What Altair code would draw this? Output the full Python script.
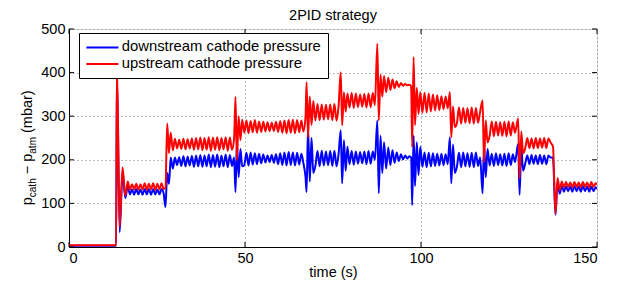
import altair as alt
import pandas as pd

# ---- data (time in s, pressure in mbar) ----
time_s = [
    0, 13.4, 13.6, 14.4, 15.2, 16.0, 16.7,
    17.3, 17.9, 18.5, 19.1, 19.7, 20.3, 20.9, 21.5, 22.1, 22.7, 23.3, 23.9, 24.5, 25.1, 25.7, 26.3, 26.9,
    27.4, 27.9, 28.4, 28.9, 29.5, 30.1,
    30.7, 31.3, 31.9, 32.5, 33.1, 33.7, 34.3, 34.9, 35.5, 36.1, 36.7, 37.3, 37.9, 38.5, 39.1, 39.7,
    40.3, 40.9, 41.5, 42.1, 42.7, 43.3, 43.9, 44.5, 45.1, 45.7, 46.3, 46.9,
    47.3, 47.7, 48.2, 48.7, 49.2,
    49.8, 50.4, 51.0, 51.6, 52.2, 52.8, 53.4, 54.0, 54.6, 55.2, 55.8, 56.4, 57.0, 57.6, 58.2, 58.8,
    59.4, 60.0, 60.6, 61.2, 61.8, 62.4, 63.0, 63.6, 64.2, 64.8, 65.4, 66.0, 66.6,
    67.2, 67.5, 67.9, 68.4, 68.9, 69.4,
    70.0, 70.6, 71.2, 71.8, 72.4, 73.0, 73.6, 74.2, 74.8, 75.4, 76.0, 76.6,
    77.2, 77.6, 78.1, 78.6, 79.1,
    79.7, 80.3, 80.9, 81.5, 82.1, 82.7, 83.3, 83.9, 84.5, 85.1, 85.7, 86.3, 86.9,
    87.6, 88.0, 88.5, 89.0, 89.5, 90.1, 90.7, 91.3, 91.9, 92.5, 93.1, 93.7, 94.3, 94.9, 95.5, 96.1, 96.7, 97.2,
    97.5, 97.9, 98.3, 98.8, 99.3, 99.8,
    100.4, 101.0, 101.6, 102.2, 102.8, 103.4, 104.0, 104.6, 105.2, 105.8, 106.4, 107.0, 107.6,
    108.2, 108.6, 109.1, 109.6,
    110.2, 110.8, 111.4, 112.0, 112.6, 113.2, 113.8, 114.4, 115.0, 115.6, 116.2, 116.8,
    117.5, 117.9, 118.4, 118.9,
    119.5, 120.1, 120.7, 121.3, 121.9, 122.5, 123.1, 123.7, 124.3, 124.9, 125.5, 126.1, 126.7,
    127.6, 128.0, 128.5, 129.0,
    129.6, 130.2, 130.8, 131.4, 132.0, 132.6, 133.2, 133.8, 134.4, 135.0, 135.6, 136.2, 136.8,
    137.5, 138.2, 138.8, 139.4,
    140.0, 140.6, 141.2, 141.8, 142.4, 143.0, 143.6, 144.2, 144.8, 145.4, 146.0, 146.6, 147.2, 147.8,
    148.4, 149.0, 149.6, 150.0,
]

downstream = [
    3, 3, 395, 34, 170, 112, 140,
    121, 132, 120, 133, 121, 132, 120, 133, 121, 133, 120, 133, 121, 132, 121, 133, 122,
    92, 170, 145, 205, 180, 205,
    188, 206, 186, 208, 185, 207, 187, 209, 184, 210, 185, 211, 184, 210, 185, 212,
    183, 211, 184, 212, 183, 210, 185, 212, 183, 211, 186, 205,
    126, 241, 160, 225, 185,
    188, 216, 187, 217, 189, 215, 190, 214, 192, 212, 194, 210, 195, 211, 193, 213,
    190, 215, 188, 217, 187, 218, 188, 217, 187, 216, 189, 214, 192,
    160, 126, 275, 150, 250, 170,
    186, 220, 185, 221, 187, 219, 188, 220, 186, 221, 185, 215,
    268, 146, 245, 175, 230,
    190, 220, 189, 219, 191, 218, 192, 219, 190, 220, 191, 219, 200,
    290, 123, 255, 170, 240, 180, 228, 188, 222, 193, 217, 197, 213, 201, 210, 203, 208, 205,
    96, 256, 140, 240, 165, 230,
    184, 217, 183, 216, 185, 215, 186, 214, 187, 214, 188, 213, 190,
    252, 146, 235, 170,
    184, 216, 183, 217, 185, 215, 184, 216, 183, 217, 186, 205,
    123, 233, 160, 225,
    187, 214, 186, 215, 188, 213, 187, 214, 186, 215, 188, 213, 195,
    237, 120, 230, 175,
    191, 210, 190, 211, 191, 210, 190, 211, 191, 210, 190, 210, 205,
    205, 74, 150, 122,
    140, 127, 139, 128, 139, 127, 140, 128, 139, 127, 140, 128, 139, 127,
    139, 128, 137, 133,
]

upstream = [
    4, 4, 420, 46, 183, 118, 150,
    131, 144, 132, 145, 131, 144, 132, 146, 131, 145, 132, 146, 131, 145, 132, 146, 133,
    135, 283, 215, 262, 222, 248,
    226, 246, 225, 248, 224, 247, 226, 249, 223, 250, 224, 251, 222, 250, 223, 252,
    221, 251, 223, 252, 222, 250, 224, 252, 221, 251, 223, 248,
    344, 199, 300, 245, 292,
    262, 290, 261, 289, 263, 291, 262, 288, 264, 287, 265, 286, 266, 285, 266, 287,
    264, 289, 262, 290, 261, 291, 262, 292, 261, 291, 263, 290, 265,
    300, 378, 252, 345, 280, 335,
    290, 328, 291, 327, 292, 326, 293, 327, 291, 328, 290, 325,
    401, 279, 355, 310, 352,
    320, 353, 319, 352, 321, 350, 322, 351, 320, 352, 321, 353, 325,
    466, 290, 395, 345, 392, 355, 388, 360, 384, 364, 380, 367, 376, 370, 374, 371, 372, 368,
    229, 436, 280, 365, 305, 355,
    308, 354, 309, 352, 311, 350, 313, 348, 314, 346, 316, 345, 318,
    355, 252, 322, 275,
    284, 320, 283, 319, 285, 318, 284, 320, 283, 319, 285, 310,
    336, 195, 290, 240,
    255, 288, 254, 287, 256, 286, 255, 287, 254, 288, 256, 286, 262,
    295, 157, 265, 215,
    226, 250, 227, 249, 226, 250, 227, 249, 228, 250, 227, 249, 240,
    230, 76, 158, 130,
    150, 137, 149, 138, 148, 137, 149, 138, 148, 137, 149, 138, 148, 137,
    149, 138, 146, 143,
]

series_names = ["downstream cathode pressure", "upstream cathode pressure"]
series_colors = ["#0000ff", "#ff0000"]
x_ticks = [0, 50, 100, 150]
y_ticks = [0, 100, 200, 300, 400, 500]
chart_title = "2PID strategy"

assert len(time_s) == len(downstream) == len(upstream)

df = pd.DataFrame({
    "t": time_s + time_s,
    "p": downstream + upstream,
    "series": [series_names[0]] * len(time_s) + [series_names[1]] * len(time_s),
})

W, H = 528, 218
FONT = "Liberation Sans"
FS = 14.5

axis_common = dict(
    grid=True, gridColor="#777777", gridDash=[1, 3], gridWidth=1,
    ticks=False, tickSize=0, domainColor="black", domainWidth=1,
    labelFont=FONT, labelFontSize=FS, labelColor="black",
    titleFont=FONT, titleFontSize=FS, titleFontWeight="normal", titleColor="black",
    format="d",
)
x_axis = alt.Axis(values=x_ticks, title="time (s)", labelPadding=4, titlePadding=1, **axis_common)
y_axis = alt.Axis(values=y_ticks, title=None, labelPadding=4, **axis_common)
x_scale = alt.Scale(domain=[0, 150], nice=False, zero=False)
y_scale = alt.Scale(domain=[0, 500], nice=False)

lines = alt.Chart(df).mark_line(strokeWidth=2, clip=True, interpolate="monotone").encode(
    x=alt.X("t:Q", scale=x_scale, axis=x_axis),
    y=alt.Y("p:Q", scale=y_scale, axis=y_axis),
    color=alt.Color("series:N", scale=alt.Scale(domain=series_names, range=series_colors),
                    legend=alt.Legend(title=None, orient="none", legendX=10, legendY=4,
                                      direction="vertical", symbolType="M-3.2,0H3.2", symbolSize=100,
                                      symbolStrokeWidth=2, symbolOffset=9,
                                      labelFont=FONT, labelFontSize=14.8,
                                      labelColor="black", labelLimit=400, labelOffset=12,
                                      labelExpr="datum.label + '   '",
                                      fillColor="white", strokeColor="black", padding=7,
                                      rowPadding=0.7, cornerRadius=0)),
)

xt = pd.DataFrame({"t": x_ticks})
yt = pd.DataFrame({"p": y_ticks})
tick_b = alt.Chart(xt).mark_rule(color="black").encode(
    x=alt.X("t:Q", scale=x_scale, axis=x_axis), y=alt.value(H), y2=alt.value(H - 5))
tick_t = alt.Chart(xt).mark_rule(color="black").encode(
    x=alt.X("t:Q", scale=x_scale, axis=x_axis), y=alt.value(0), y2=alt.value(5))
tick_l = alt.Chart(yt).mark_rule(color="black").encode(
    y=alt.Y("p:Q", scale=y_scale, axis=y_axis), x=alt.value(0), x2=alt.value(5))
tick_r = alt.Chart(yt).mark_rule(color="black").encode(
    y=alt.Y("p:Q", scale=y_scale, axis=y_axis), x=alt.value(W), x2=alt.value(W - 5))

# single-row source for the annotation texts
one = pd.DataFrame({"k": [0]})

# y-axis title with subscripts, built from rotated text pieces
ylab_pieces = [
    ("p", -37.5, 176.3, FS),
    ("cath", -33.0, 168.2, 10),
    ("\u2212", -37.5, 145.3, FS),
    ("p", -37.5, 132.8, FS),
    ("atm", -33.0, 124.7, 10),
    ("(mbar)", -37.5, 104.0, FS),
]
ytitle_layers = [
    alt.Chart(one).mark_text(text=txt, angle=270, align="left", baseline="alphabetic",
                             font=FONT, fontSize=fs, color="black").encode(
        x=alt.value(px), y=alt.value(py))
    for (txt, px, py, fs) in ylab_pieces
]

title_layer = alt.Chart(one).mark_text(text=chart_title, align="center", baseline="middle",
                                       font=FONT, fontSize=FS, color="black").encode(
    x=alt.value(W / 2), y=alt.value(-13.5))

chart = alt.layer(lines, tick_b, tick_t, tick_l, tick_r, *ytitle_layers, title_layer).properties(
    width=W, height=H,
    padding={"left": 61, "top": 21, "right": 16, "bottom": 33},
    autosize=alt.AutoSizeParams(type="none"),
).configure_view(stroke="black", strokeWidth=1).configure(background="white")

chart.save("out.html", embed_options={"renderer": "svg", "actions": False})
